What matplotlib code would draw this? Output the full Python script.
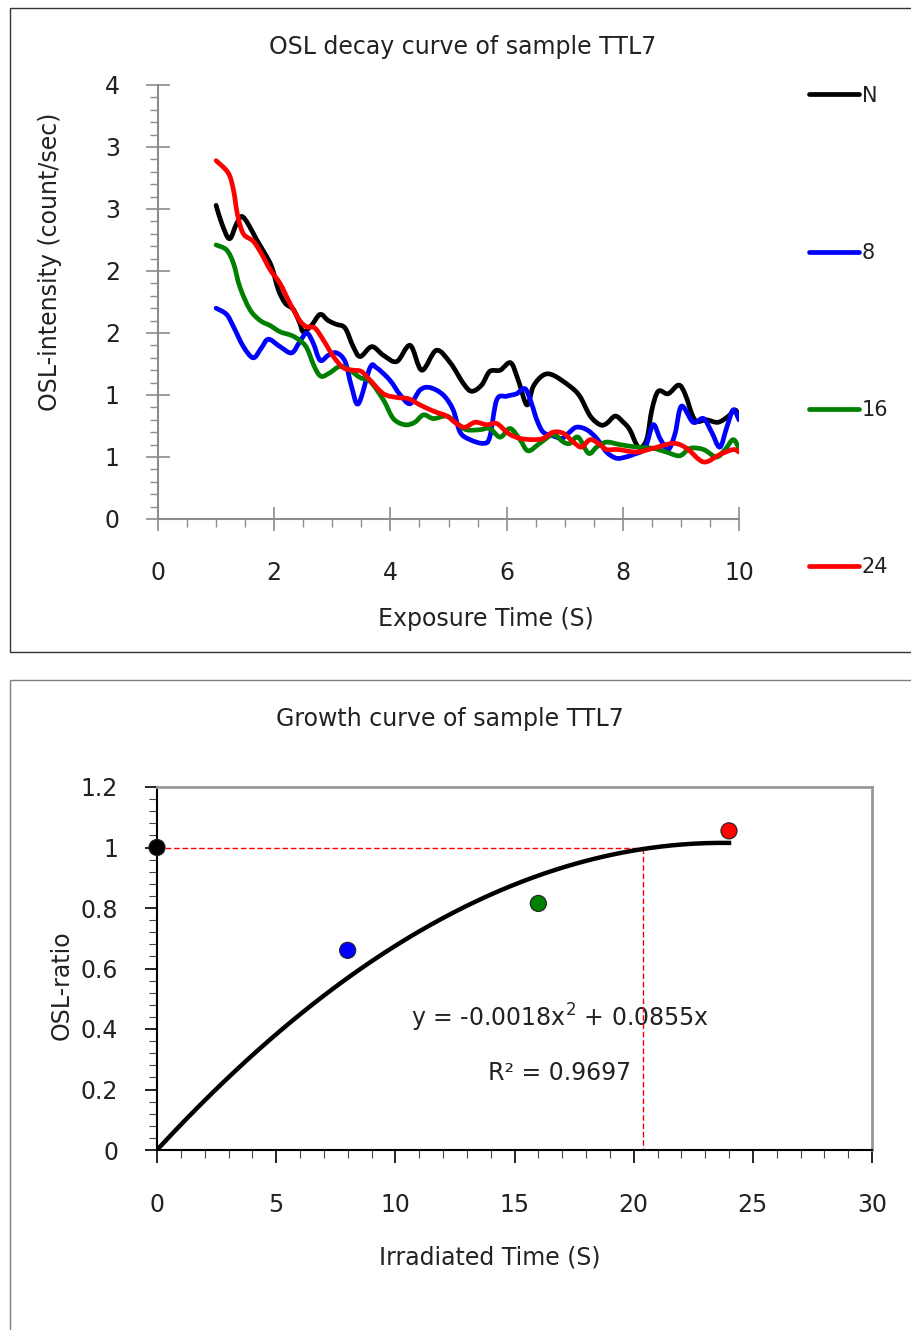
import numpy as np
import matplotlib
matplotlib.use('Agg')
import matplotlib.pyplot as plt
from matplotlib.patches import Rectangle, PathPatch
from matplotlib.path import Path
from matplotlib.lines import Line2D
from matplotlib.ticker import MultipleLocator

plt.rcParams['font.family'] = ['DejaVu Sans']

# OSL decay curves
n_x = [1.0, 1.10, 1.23, 1.35, 1.44, 1.55, 1.70, 1.84, 1.96, 2.07, 2.19, 2.33, 2.44, 2.50,
       2.64, 2.79, 2.93, 3.07, 3.22, 3.36, 3.48, 3.68, 3.88, 4.11, 4.34, 4.54, 4.79, 5.03,
       5.26, 5.40, 5.57, 5.71, 5.89, 6.07, 6.20, 6.35, 6.46, 6.63, 6.80, 7.09, 7.26, 7.44,
       7.61, 7.72, 7.87, 8.01, 8.12, 8.27, 8.41, 8.50, 8.61, 8.78, 8.96, 9.07, 9.24, 9.44,
       9.64, 9.82, 9.93, 10.0]
n_y = [2.53, 2.38, 2.26, 2.38, 2.44, 2.38, 2.25, 2.14, 2.03, 1.85, 1.74, 1.69, 1.58, 1.51,
       1.56, 1.65, 1.60, 1.57, 1.54, 1.39, 1.31, 1.39, 1.32, 1.27, 1.40, 1.20, 1.36, 1.26,
       1.09, 1.03, 1.08, 1.19, 1.20, 1.26, 1.12, 0.92, 1.07, 1.16, 1.16, 1.07, 0.99, 0.83,
       0.76, 0.77, 0.83, 0.78, 0.72, 0.58, 0.64, 0.88, 1.03, 1.01, 1.08, 1.01, 0.80, 0.80,
       0.78, 0.83, 0.88, 0.83]

d8_x = [1.0, 1.18, 1.30, 1.47, 1.64, 1.78, 1.90, 2.10, 2.30, 2.44, 2.56, 2.67, 2.79, 2.93,
        3.07, 3.22, 3.33, 3.45, 3.65, 3.76, 3.99, 4.17, 4.34, 4.51, 4.68, 4.91, 5.08, 5.20,
        5.37, 5.60, 5.71, 5.83, 6.00, 6.17, 6.32, 6.43, 6.52, 6.63, 6.80, 6.95, 7.06, 7.20,
        7.38, 7.55, 7.72, 7.89, 8.05, 8.18, 8.38, 8.52, 8.64, 8.78, 8.90, 9.01, 9.21, 9.39,
        9.53, 9.67, 9.79, 9.90, 10.0]
d8_y = [1.70, 1.65, 1.55, 1.39, 1.30, 1.38, 1.45, 1.39, 1.34, 1.43, 1.50, 1.42, 1.28, 1.32,
        1.34, 1.27, 1.07, 0.93, 1.22, 1.22, 1.12, 1.00, 0.93, 1.04, 1.06, 1.00, 0.88, 0.70,
        0.64, 0.61, 0.66, 0.96, 0.99, 1.01, 1.05, 0.93, 0.80, 0.70, 0.67, 0.65, 0.69, 0.74,
        0.72, 0.65, 0.54, 0.49, 0.50, 0.52, 0.57, 0.76, 0.65, 0.56, 0.69, 0.91, 0.78, 0.81,
        0.70, 0.58, 0.74, 0.88, 0.80]

d16_x = [1.0, 1.18, 1.30, 1.41, 1.58, 1.76, 1.93, 2.10, 2.30, 2.44, 2.56, 2.70, 2.81, 2.96,
         3.13, 3.30, 3.48, 3.65, 3.88, 4.05, 4.25, 4.42, 4.57, 4.74, 4.97, 5.14, 5.31, 5.54,
         5.71, 5.89, 6.06, 6.23, 6.37, 6.57, 6.80, 6.98, 7.09, 7.23, 7.41, 7.55, 7.72, 7.95,
         8.24, 8.52, 8.75, 8.98, 9.16, 9.39, 9.61, 9.76, 9.90, 10.0]
d16_y = [2.21, 2.17, 2.06, 1.87, 1.69, 1.60, 1.56, 1.51, 1.48, 1.44, 1.38, 1.22, 1.15, 1.18,
         1.23, 1.20, 1.14, 1.11, 0.96, 0.81, 0.76, 0.78, 0.84, 0.81, 0.83, 0.77, 0.72, 0.72,
         0.73, 0.66, 0.73, 0.64, 0.55, 0.61, 0.68, 0.62, 0.61, 0.66, 0.53, 0.58, 0.62, 0.60,
         0.58, 0.57, 0.54, 0.51, 0.57, 0.56, 0.50, 0.56, 0.64, 0.57]

d24_x = [1.0, 1.21, 1.30, 1.37, 1.47, 1.64, 1.78, 1.93, 2.10, 2.27, 2.44, 2.56, 2.70, 2.85,
         3.02, 3.19, 3.36, 3.50, 3.65, 3.88, 4.11, 4.31, 4.51, 4.74, 4.97, 5.14, 5.28, 5.46,
         5.66, 5.83, 6.03, 6.23, 6.46, 6.63, 6.80, 6.98, 7.15, 7.29, 7.44, 7.61, 7.72, 7.92,
         8.24, 8.52, 8.87, 9.10, 9.39, 9.67, 9.90, 10.0]
d24_y = [2.89, 2.79, 2.65, 2.45, 2.30, 2.24, 2.14, 2.01, 1.90, 1.74, 1.60, 1.55, 1.54, 1.44,
         1.31, 1.22, 1.20, 1.19, 1.12, 1.01, 0.98, 0.97, 0.92, 0.87, 0.83, 0.77, 0.74, 0.78,
         0.76, 0.77, 0.69, 0.65, 0.64, 0.65, 0.70, 0.69, 0.62, 0.58, 0.64, 0.60, 0.56, 0.56,
         0.54, 0.57, 0.61, 0.57, 0.46, 0.52, 0.56, 0.54]

series = [('N', n_x, n_y, 'black'),
          ('8', d8_x, d8_y, '#0000ff'),
          ('16', d16_x, d16_y, '#008000'),
          ('24', d24_x, d24_y, '#ff0000')]

decay_yticks = [0, 0.5, 1.0, 1.5, 2.0, 2.5, 3.0, 3.5]
decay_ylabels = ['0', '1', '1', '2', '2', '3', '3', '4']

# growth curve
dose = [0, 8, 16, 24]
ratio = [1.0, 0.66, 0.815, 1.055]
dot_colors = ['black', '#0000ff', '#008000', '#ff0000']
fit_coef = [-0.0018, 0.0855, 0.0]   # y = -0.0018x^2 + 0.0855x
r2 = 0.9697
de_x = 20.4     # dose where fit reaches ratio 1
natural = 1.0

txt = '#222222'
grey = '#8c8c8c'
FS = 17


def smooth_path(xs, ys):
    # smoothed line like a spreadsheet chart: Bezier segments through the points
    p = np.column_stack([xs, ys]).astype(float)
    ext = np.vstack([p[0], p, p[-1]])
    verts = [p[0]]
    codes = [Path.MOVETO]
    for i in range(len(p) - 1):
        a, b, c, d = ext[i], ext[i + 1], ext[i + 2], ext[i + 3]
        verts += [b + (c - a) / 6.0, c - (d - b) / 6.0, c]
        codes += [Path.CURVE4] * 3
    return Path(verts, codes)


fig = plt.figure(figsize=(9.11, 13.30), dpi=100)
W, H = 911.0, 1330.0


def fx(px):
    return px / W


def fy(py):
    return 1 - py / H


# panel frames
fig.add_artist(Rectangle((fx(10), fy(652)), fx(915 - 10), (652 - 8) / H,
                         fill=False, ec='#333333', lw=1.0, transform=fig.transFigure))
fig.add_artist(Rectangle((fx(10), fy(1340)), fx(915 - 10), (1340 - 680) / H,
                         fill=False, ec='#7f7f7f', lw=1.0, transform=fig.transFigure))

# ---------- decay curves ----------
ax = fig.add_axes([fx(158), fy(519), fx(739 - 158), (519 - 85) / H])
handles = []
for name, xs, ys, col in series:
    ax.add_patch(PathPatch(smooth_path(xs, ys), fill=False, ec=col, lw=3.4,
                           joinstyle='round', capstyle='round'))
    handles.append(Line2D([], [], color=col, lw=3.4, solid_capstyle='round', label=name))
ax.set_xlim(0, 10)
ax.set_ylim(0, 3.5)
ax.set_xticks(np.arange(0, 11, 2))
ax.xaxis.set_minor_locator(MultipleLocator(0.5))
ax.set_yticks(decay_yticks)
ax.set_yticklabels(decay_ylabels)
ax.yaxis.set_minor_locator(MultipleLocator(0.1))
for s in ['top', 'right']:
    ax.spines[s].set_visible(False)
for s in ['left', 'bottom']:
    ax.spines[s].set_color(grey)
    ax.spines[s].set_linewidth(1.5)
ax.tick_params(which='major', direction='inout', length=17, width=1.2, color=grey,
               labelsize=FS, labelcolor=txt)
ax.tick_params(axis='x', which='major', pad=22)
ax.tick_params(axis='y', which='major', pad=19)
ax.tick_params(which='minor', direction='out', length=6, width=1.0, color=grey)
ax.set_facecolor('none')

fig.text(fx(463), fy(47), 'OSL decay curve of sample TTL7', ha='center', va='center',
         fontsize=FS, color=txt)
fig.text(fx(486), fy(619), 'Exposure Time (S)', ha='center', va='center',
         fontsize=FS, color=txt)
fig.text(fx(50), fy(262), 'OSL-intensity (count/sec)', ha='center', va='center',
         rotation=90, fontsize=FS, color=txt)

fig.legend(handles=handles, loc='upper left', bbox_to_anchor=(fx(790), fy(67)),
           frameon=False, fontsize=15, handlelength=2.4, handletextpad=0.15,
           labelspacing=6.58, labelcolor=txt)

# ---------- growth curve ----------
bx = fig.add_axes([fx(157), fy(1150), fx(872 - 157), (1150 - 787) / H])
xfit = np.linspace(0, dose[-1], 200)
bx.plot(xfit, np.polyval(fit_coef, xfit), color='black', lw=3.2, zorder=3)
bx.plot([0, de_x], [natural, natural], color='#ff0000', lw=1, ls=(0, (4, 2)), zorder=2)
bx.plot([de_x, de_x], [natural, 0], color='#ff0000', lw=1, ls=(0, (4, 2)), zorder=2)
bx.scatter(dose, ratio, s=135, c=dot_colors, edgecolors='#222222', linewidths=0.8,
           zorder=4, clip_on=False)
bx.set_xlim(0, 30)
bx.set_ylim(0, 1.2)
bx.set_xticks(np.arange(0, 31, 5))
bx.xaxis.set_minor_locator(MultipleLocator(1))
bx.set_yticks(np.arange(0, 1.21, 0.2))
bx.set_yticklabels(['0', '0.2', '0.4', '0.6', '0.8', '1', '1.2'])
bx.yaxis.set_minor_locator(MultipleLocator(0.04))
for s in ['top', 'right']:
    bx.spines[s].set_color('#999999')
    bx.spines[s].set_linewidth(2)
for s in ['left', 'bottom']:
    bx.spines[s].set_color('black')
    bx.spines[s].set_linewidth(1.5)
bx.tick_params(which='major', direction='out', length=9, width=1.2, color='black',
               labelsize=FS, labelcolor=txt)
bx.tick_params(axis='x', which='major', pad=22)
bx.tick_params(axis='y', which='major', pad=19)
bx.tick_params(which='minor', direction='out', length=6, width=0.8, color='#444444')

bx.text(16.9, 0.436, 'y = -0.0018x$^{2}$ + 0.0855x', ha='center', va='center',
        fontsize=FS, color=txt, zorder=1)
bx.text(16.9, 0.255, 'R² = %.4f' % r2, ha='center', va='center',
        fontsize=FS, color=txt, zorder=1)

fig.text(fx(450), fy(719), 'Growth curve of sample TTL7', ha='center', va='center',
         fontsize=FS, color=txt)
fig.text(fx(490), fy(1257), 'Irradiated Time (S)', ha='center', va='center',
         fontsize=FS, color=txt)
fig.text(fx(62), fy(985), 'OSL-ratio', ha='center', va='center',
         rotation=90, fontsize=FS, color=txt)

fig.savefig('out.png', dpi=100)
